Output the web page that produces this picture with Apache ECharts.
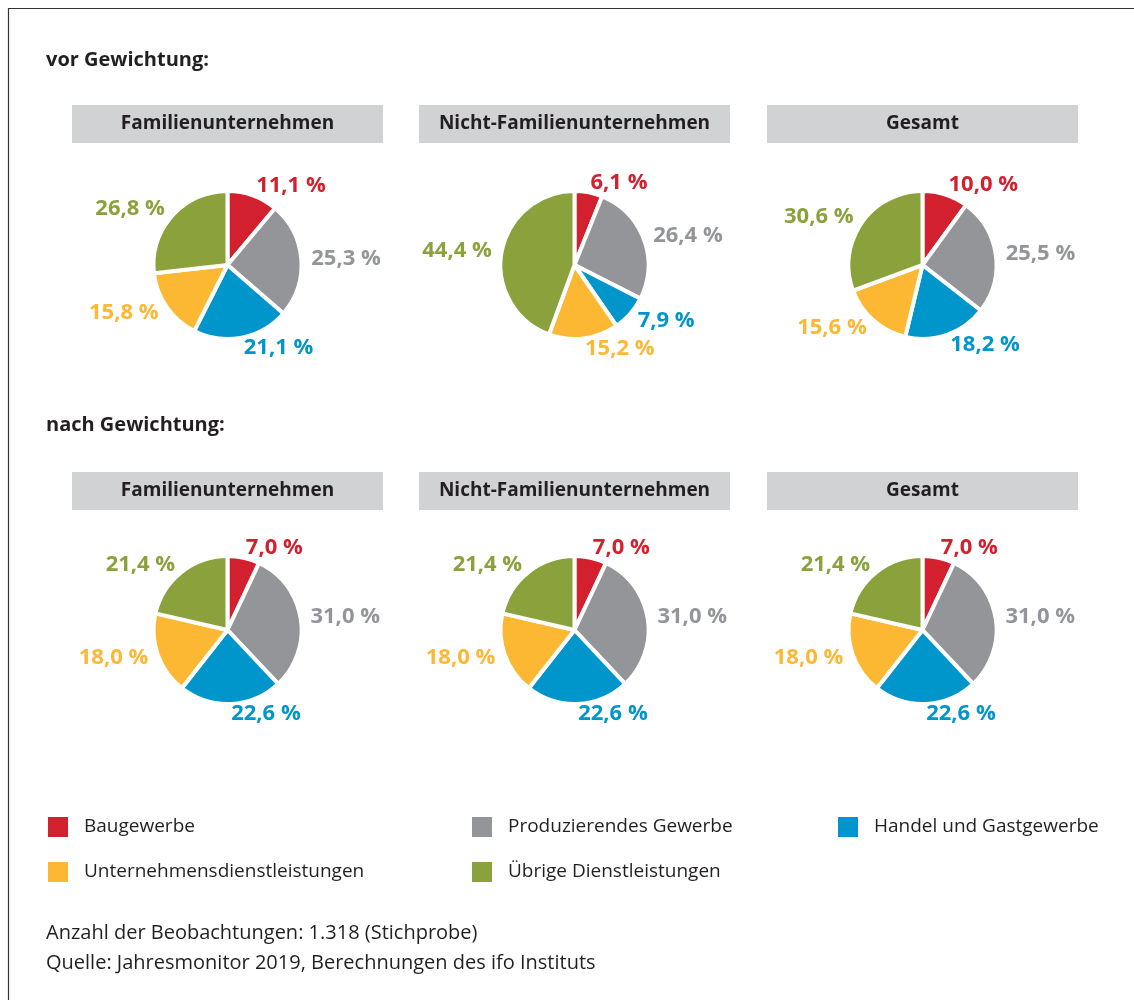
<!DOCTYPE html>
<html>
<head>
<meta charset="utf-8">
<script src="https://cdn.jsdelivr.net/npm/echarts@6/dist/echarts.min.js"></script>
<style>
  html, body { margin: 0; padding: 0; background: #fff; }
  #chart { width: 1134px; height: 1000px; }
</style>
</head>
<body>
<div id="chart"></div>
<script>
// Kategorien (im Uhrzeigersinn ab 12 Uhr)
var categories = ['Baugewerbe', 'Produzierendes Gewerbe', 'Handel und Gastgewerbe',
                  'Unternehmensdienstleistungen', 'Übrige Dienstleistungen'];
var colors = ['#D2202F', '#939598', '#0096CB', '#FDB833', '#8AA13C'];

var groups = ['Familienunternehmen', 'Nicht-Familienunternehmen', 'Gesamt'];
var sections = ['vor Gewichtung:', 'nach Gewichtung:'];

// vor Gewichtung
var vorFamilien = [11.1, 25.3, 21.1, 15.8, 26.8];
var vorNichtFamilien = [6.1, 26.4, 7.9, 15.2, 44.4];
var vorGesamt = [10.0, 25.5, 18.2, 15.6, 30.6];
// nach Gewichtung
var nachFamilien = [7.0, 31.0, 22.6, 18.0, 21.4];
var nachNichtFamilien = [7.0, 31.0, 22.6, 18.0, 21.4];
var nachGesamt = [7.0, 31.0, 22.6, 18.0, 21.4];

var notes = ['Anzahl der Beobachtungen: 1.318 (Stichprobe)',
             'Quelle: Jahresmonitor 2019, Berechnungen des ifo Instituts'];

var FONT = '"Open Sans", sans-serif';
var DARK = '#231F20';

var rows = [[vorFamilien, vorNichtFamilien, vorGesamt],
            [nachFamilien, nachNichtFamilien, nachGesamt]];
var colX = [227.5, 574.5, 922.5];
var boxLeft = [72, 419, 767];
var rowPieY = [265, 630];
var rowBoxY = [105, 472];
var rowTitleY = [60, 425];

function fmt(v) {
    return v.toFixed(1).replace('.', ',') + ' %';
}

var series = [];
var graphic = [
    { type: 'line', shape: { x1: 8, y1: 8.5, x2: 1134, y2: 8.5 }, style: { stroke: '#333', lineWidth: 1.2 } },
    { type: 'line', shape: { x1: 8.5, y1: 8, x2: 8.5, y2: 1000 }, style: { stroke: '#333', lineWidth: 1.2 } }
];

rows.forEach(function (row, r) {
    graphic.push({
        type: 'text', x: 46, y: rowTitleY[r],
        style: { text: sections[r], font: 'bold 20px ' + FONT, fill: DARK, verticalAlign: 'middle' }
    });
    row.forEach(function (values, c) {
        graphic.push({
            type: 'rect', shape: { x: boxLeft[c], y: rowBoxY[r], width: 311, height: 38 },
            style: { fill: '#D1D2D4' }
        });
        graphic.push({
            type: 'text', x: colX[c], y: rowBoxY[r] + 19,
            style: { text: groups[c], font: 'bold 19px ' + FONT, fill: DARK,
                     align: 'center', verticalAlign: 'middle' }
        });
        series.push({
            type: 'pie',
            center: [colX[c], rowPieY[r]],
            radius: 74,
            startAngle: 90,
            clockwise: true,
            avoidLabelOverlap: false,
            animation: false,
            silent: true,
            itemStyle: { borderColor: '#fff', borderWidth: 4 },
            label: {
                show: true, position: 'outside',
                fontFamily: FONT, fontWeight: 'bold', fontSize: 22,
                distanceToLabelLine: 0,
                formatter: function (p) { return fmt(p.value); }
            },
            labelLine: { show: false, length: 10, length2: 0 },
            data: categories.map(function (name, i) {
                return { name: name, value: values[i], label: { color: colors[i] } };
            })
        });
    });
});

notes.forEach(function (t, i) {
    graphic.push({
        type: 'text', x: 46, y: 933 + i * 30,
        style: { text: t, font: '20px ' + FONT, fill: DARK, verticalAlign: 'middle' }
    });
});

function legendCol(left, names) {
    return {
        orient: 'vertical', left: left, top: 815, padding: 0,
        itemWidth: 22, itemHeight: 22, itemGap: 21, icon: 'rect',
        selectedMode: false,
        textStyle: { fontFamily: FONT, fontSize: 19, color: DARK, padding: [0, 0, 0, 10] },
        data: names
    };
}

var chart = echarts.init(document.getElementById('chart'));
chart.setOption({
    animation: false,
    color: colors,
    legend: [
        legendCol(46, [categories[0], categories[3]]),
        legendCol(470, [categories[1], categories[4]]),
        legendCol(836, [categories[2]])
    ],
    graphic: graphic,
    series: series
});
</script>
</body>
</html>
